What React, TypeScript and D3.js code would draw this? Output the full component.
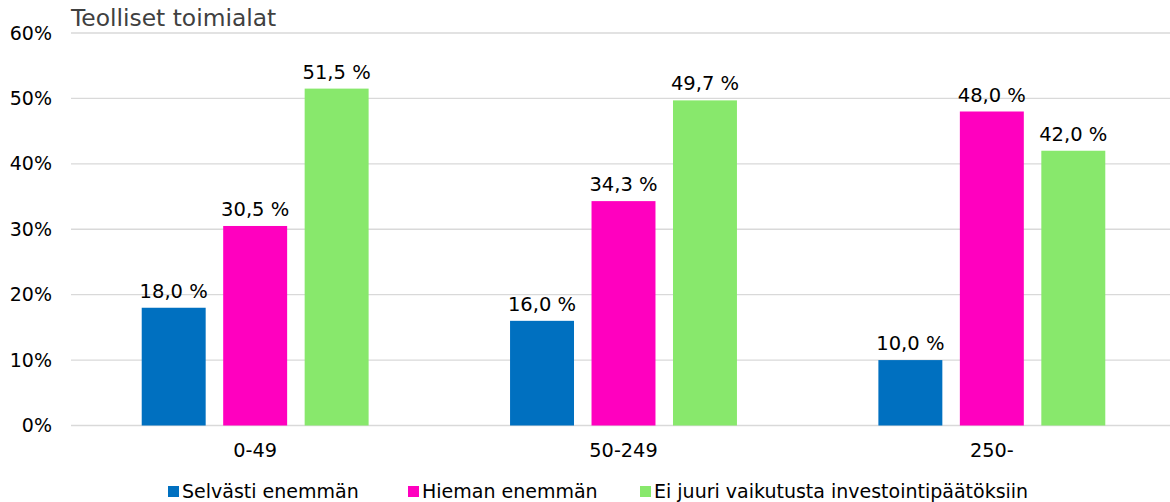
import * as d3 from 'd3';

const categories = ['0-49', '50-249', '250-'];
const seriesNames = ['Selvästi enemmän', 'Hieman enemmän', 'Ei juuri vaikutusta investointipäätöksiin'];
const selvasti = [18.0, 16.0, 10.0];
const hieman = [30.5, 34.3, 48.0];
const eiJuuri = [51.5, 49.7, 42.0];
const yTicks = [0, 10, 20, 30, 40, 50, 60];
const colors = ['#0070C0', '#FF00BF', '#88E86C'];

const W = 1170;
const H = 502;
const FONT = 'DejaVu Sans, Verdana, sans-serif';

export default function App() {
  const series = [selvasti, hieman, eiJuuri];
  const x0 = d3.scaleBand().domain(categories).range([71, 1176]).paddingInner(0).paddingOuter(0);
  const x1 = d3.scaleBand<number>().domain([0, 1, 2]).range([0, x0.bandwidth()]).paddingInner(0.215).paddingOuter(0.868);
  const y = d3.scaleLinear().domain([0, 60]).range([425.5, 33]);
  const fmt = (v: number) => v.toFixed(1).replace('.', ',') + ' %';

  const legendX = [168, 408, 640];

  return (
    <svg width={W} height={H} style={{ position: 'absolute', left: 0, top: 0, background: '#fff' }} fontFamily={FONT}>
      <text x={71} y={26} fontSize={23.4} fill="#404040">Teolliset toimialat</text>
      {yTicks.map(t => (
        <g key={t}>
          <line x1={71} x2={1170} y1={y(t)} y2={y(t)} stroke="#D9D9D9" strokeWidth={1.3} />
          <text x={52} y={y(t)} dy="0.35em" textAnchor="end" fontSize={19} fill="#000">{t}%</text>
        </g>
      ))}
      {categories.map((c, i) => (
        <g key={c} transform={`translate(${x0(c)},0)`}>
          {series.map((s, j) => {
            const bx = x1(j)!;
            const bw = x1.bandwidth();
            return (
              <g key={j}>
                <rect x={bx} y={y(s[i])} width={bw} height={y(0) - y(s[i])} fill={colors[j]} />
                <text x={bx + bw / 2} y={y(s[i]) - 10} textAnchor="middle" fontSize={19.5} fill="#000">{fmt(s[i])}</text>
              </g>
            );
          })}
          <text x={x0.bandwidth() / 2} y={457} textAnchor="middle" fontSize={19.3} fill="#000">{c}</text>
        </g>
      ))}
      {seriesNames.map((n, j) => (
        <g key={n} transform={`translate(${legendX[j]},0)`}>
          <rect x={0} y={486} width={11} height={11} fill={colors[j]} />
          <text x={14} y={498} fontSize={19} fill="#000">{n}</text>
        </g>
      ))}
    </svg>
  );
}
